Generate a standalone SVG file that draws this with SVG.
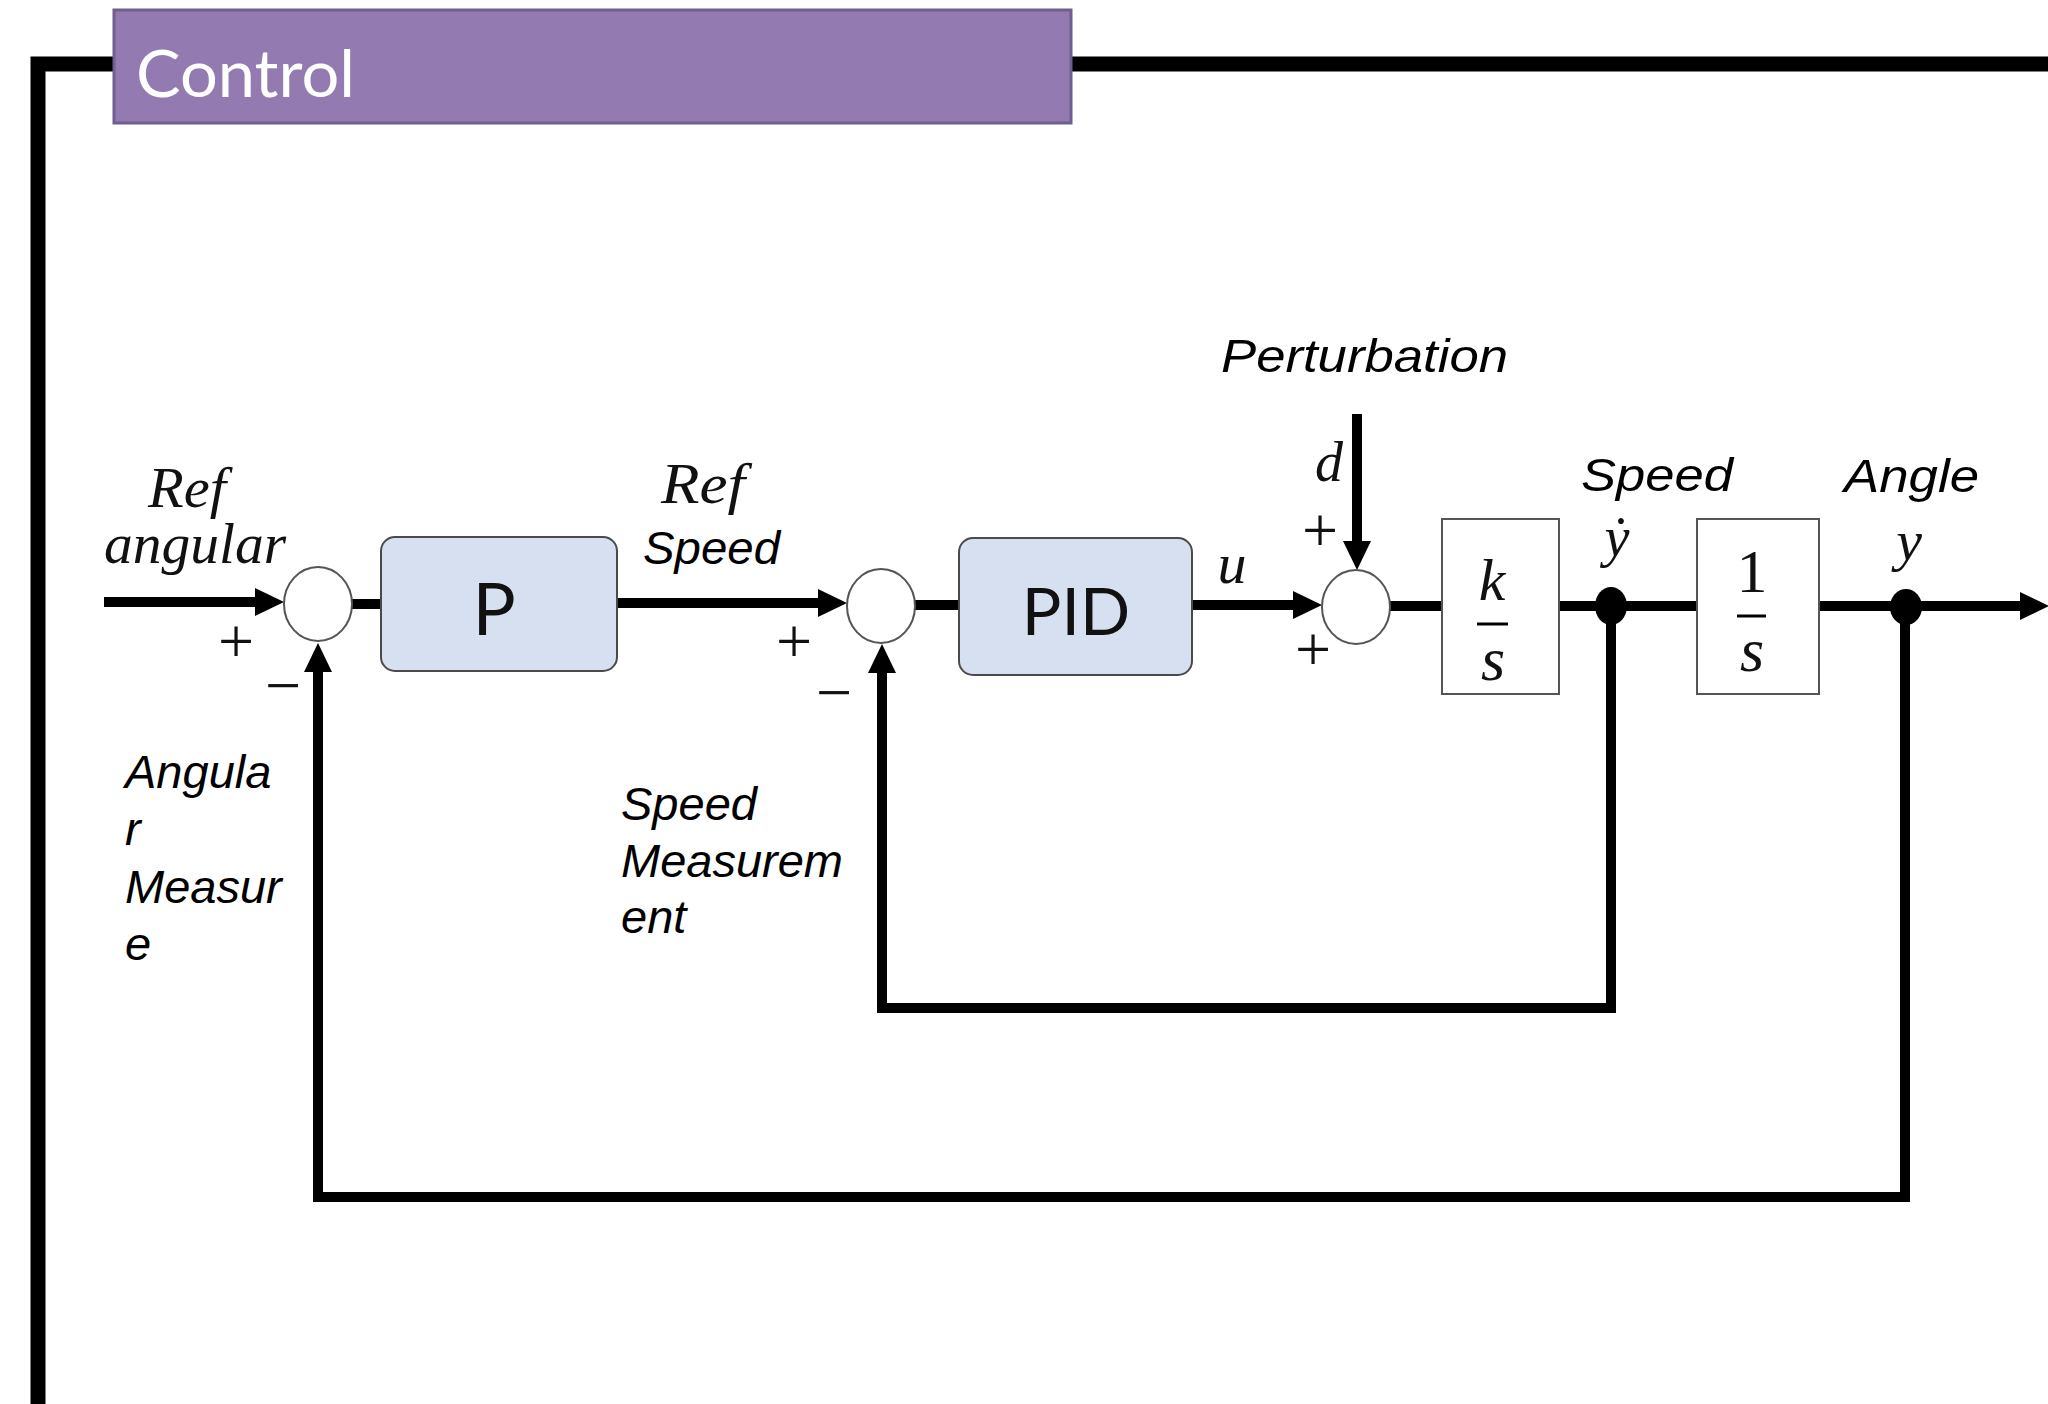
<svg xmlns="http://www.w3.org/2000/svg" width="2048" height="1404" viewBox="0 0 2048 1404">
  <style>
    .frame { fill: none; stroke: #000; stroke-width: 15; }
    .wire { fill: none; stroke: #000; stroke-width: 10; stroke-linejoin: miter; }
    .block { fill: #D7E0F1; stroke: #4a4a4a; stroke-width: 2; }
    .tf { fill: #fff; stroke: #555; stroke-width: 2; }
    .sum { fill: #fff; stroke: #555; stroke-width: 2; }
    .dot { fill: #000; }
    .bar { stroke: #000; stroke-width: 3; }
    .blk { font-family: Lato, "Open Sans", sans-serif; fill: #111; text-anchor: middle; }
    .math { font-family: "Liberation Serif", "DejaVu Serif", serif; font-style: italic; fill: #111; }
    .num { font-family: "Liberation Serif", "DejaVu Serif", serif; font-style: normal; fill: #111; }
    .sign { font-family: "Liberation Serif", "DejaVu Serif", serif; fill: #111; text-anchor: middle; font-size: 64px; }
    .lbl { font-family: "Liberation Sans", Arial, sans-serif; font-style: italic; fill: #000; font-size: 47px; }
  </style>
  <defs>
    <marker id="arrow" markerUnits="userSpaceOnUse" markerWidth="30" markerHeight="30" refX="0" refY="15" orient="auto">
      <path d="M0,1 L29,15 L0,29 z" fill="#000"/>
    </marker>
  </defs>

  <rect width="2048" height="1404" fill="#fff"/>

  <!-- slide frame and title bar -->
  <path class="frame" d="M2048,64 H38 V1404"/>
  <g id="title">
    <rect x="114" y="10" width="957" height="113" fill="#937BB1" stroke="#6F5F8C" stroke-width="3"/>
    <text x="136" y="97" font-family="Lato, 'Open Sans', sans-serif" font-size="66" fill="#fff" textLength="219" lengthAdjust="spacingAndGlyphs">Control</text>
  </g>

  <!-- connectors -->
  <g id="connectors">
    <path class="wire" d="M104,602 H255" marker-end="url(#arrow)"/>
    <path class="wire" d="M352,604 H382"/>
    <path class="wire" d="M616,603 H818" marker-end="url(#arrow)"/>
    <path class="wire" d="M914,605 H960"/>
    <path class="wire" d="M1192,605 H1293" marker-end="url(#arrow)"/>
    <path class="wire" d="M1357,414 V541" marker-end="url(#arrow)"/>
    <path class="wire" d="M1389,606 H1442"/>
    <path class="wire" d="M1559,606 H1697"/>
    <path class="wire" d="M1819,606 H2020" marker-end="url(#arrow)"/>
    <!-- speed feedback -->
    <path class="wire" d="M1611,606 V1008 H882 V673" marker-end="url(#arrow)"/>
    <!-- angle feedback -->
    <path class="wire" d="M1905,607 V1197 H318 V672" marker-end="url(#arrow)"/>
  </g>

  <!-- input label -->
  <g id="ref-angular">
    <text class="math" x="148" y="507" font-size="56" textLength="78" lengthAdjust="spacingAndGlyphs">Ref</text>
    <text class="math" x="104" y="563" font-size="56" textLength="182" lengthAdjust="spacingAndGlyphs">angular</text>
  </g>

  <!-- summing junction 1 -->
  <g id="sum1">
    <ellipse class="sum" cx="318" cy="604" rx="34" ry="37"/>
    <text class="sign" x="236" y="663">+</text>
    <text class="sign" x="283" y="707">−</text>
  </g>

  <!-- P controller -->
  <g id="p-block">
    <rect class="block" x="381" y="537" width="236" height="134" rx="14"/>
    <text class="blk" x="494" y="635" font-size="72">P</text>
  </g>

  <g id="ref-speed">
    <text class="math" x="661" y="503" font-size="56" textLength="84" lengthAdjust="spacingAndGlyphs">Ref</text>
    <text class="lbl" x="643" y="564" textLength="137" lengthAdjust="spacingAndGlyphs">Speed</text>
  </g>

  <!-- summing junction 2 -->
  <g id="sum2">
    <ellipse class="sum" cx="881" cy="606" rx="34" ry="37"/>
    <text class="sign" x="794" y="663">+</text>
    <text class="sign" x="834" y="714">−</text>
  </g>

  <!-- PID controller -->
  <g id="pid-block">
    <rect class="block" x="959" y="538" width="233" height="137" rx="14"/>
    <text class="blk" x="1076" y="635" font-size="66">PID</text>
  </g>

  <g id="u-label">
    <text class="math" x="1232" y="583" font-size="58" text-anchor="middle">u</text>
  </g>

  <!-- disturbance input -->
  <g id="perturbation">
    <text class="lbl" x="1221" y="372" textLength="287" lengthAdjust="spacingAndGlyphs">Perturbation</text>
    <text class="math" x="1329" y="481" font-size="56" text-anchor="middle">d</text>
  </g>

  <!-- summing junction 3 -->
  <g id="sum3">
    <ellipse class="sum" cx="1356" cy="607" rx="34" ry="37"/>
    <text class="sign" x="1320" y="552">+</text>
    <text class="sign" x="1313" y="671">+</text>
  </g>

  <!-- plant k/s -->
  <g id="plant">
    <rect class="tf" x="1442" y="519" width="117" height="175"/>
    <text class="math" x="1492" y="600" font-size="60" text-anchor="middle">k</text>
    <line class="bar" x1="1477" y1="624" x2="1508" y2="624"/>
    <text class="math" x="1493" y="680" font-size="62" text-anchor="middle">s</text>
  </g>

  <!-- speed output node -->
  <g id="speed-node">
    <text class="lbl" x="1581" y="491" textLength="152" lengthAdjust="spacingAndGlyphs">Speed</text>
    <text class="math" x="1617" y="556" font-size="56" text-anchor="middle">ẏ</text>
    <ellipse class="dot" cx="1611" cy="606" rx="16" ry="19"/>
  </g>

  <!-- integrator 1/s -->
  <g id="integrator">
    <rect class="tf" x="1697" y="519" width="122" height="175"/>
    <text class="num" x="1752" y="592" font-size="62" text-anchor="middle">1</text>
    <line class="bar" x1="1737" y1="616" x2="1766" y2="616"/>
    <text class="math" x="1752" y="671" font-size="62" text-anchor="middle">s</text>
  </g>

  <!-- angle output node -->
  <g id="angle-node">
    <text class="lbl" x="1844" y="492" textLength="135" lengthAdjust="spacingAndGlyphs">Angle</text>
    <text class="math" x="1909" y="560" font-size="58" text-anchor="middle">y</text>
    <ellipse class="dot" cx="1906" cy="607" rx="16" ry="18"/>
  </g>

  <!-- feedback labels -->
  <g id="angular-measure">
    <text class="lbl" x="125" y="788">Angula</text>
    <text class="lbl" x="125" y="845">r</text>
    <text class="lbl" x="125" y="903">Measur</text>
    <text class="lbl" x="125" y="960">e</text>
  </g>
  <g id="speed-measurement">
    <text class="lbl" x="621" y="820">Speed</text>
    <text class="lbl" x="621" y="877">Measurem</text>
    <text class="lbl" x="621" y="933">ent</text>
  </g>
</svg>
